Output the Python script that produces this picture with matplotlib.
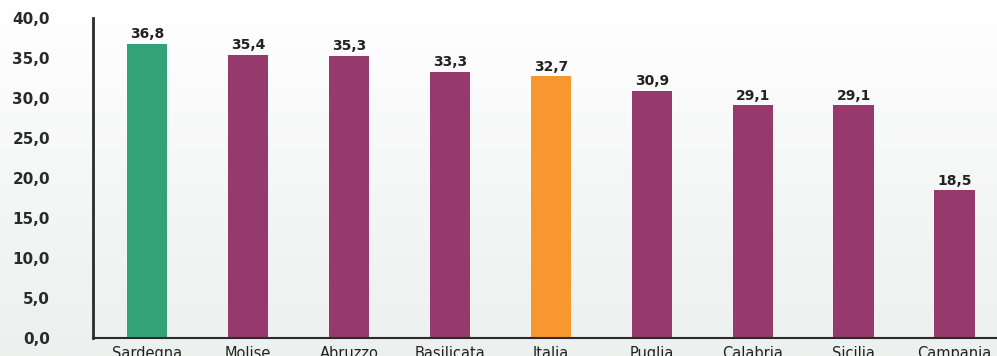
import matplotlib
matplotlib.use('Agg')
import matplotlib.pyplot as plt
import numpy as np
from matplotlib.colors import LinearSegmentedColormap

# Data
regions = ['Sardegna', 'Molise', 'Abruzzo', 'Basilicata', 'Italia',
           'Puglia', 'Calabria', 'Sicilia', 'Campania']
values = [36.8, 35.4, 35.3, 33.3, 32.7, 30.9, 29.1, 29.1, 18.5]
yticks = [0, 5, 10, 15, 20, 25, 30, 35, 40]

green = '#33a377'
purple = '#963a6d'
orange = '#f7972e'
colors = [green] + [purple] * 3 + [orange] + [purple] * 4

fig = plt.figure(figsize=(9.97, 3.56), dpi=100)

# soft vertical gradient background
bg = fig.add_axes([0, 0, 1, 1], zorder=-10)
grad = np.linspace(0, 1, 256).reshape(-1, 1)
bgmap = LinearSegmentedColormap.from_list('bg', ['#ffffff', '#ecf0ee'])
bg.imshow(grad, aspect='auto', cmap=bgmap, extent=[0, 1, 0, 1])
bg.axis('off')

ax = fig.add_axes([93 / 997, 1 - 338 / 356, 1 - 93 / 997, (338 - 18) / 356])
ax.patch.set_alpha(0)

x = np.arange(len(regions))
ax.bar(x, values, width=0.4, color=colors, zorder=2)
for xi, v in zip(x, values):
    ax.text(xi, v + 0.3, ('%.1f' % v).replace('.', ','), ha='center', va='bottom',
            fontsize=10, fontweight='bold', color='#222222', family='DejaVu Sans')

ax.set_xlim(-0.535, len(regions) - 1 + 0.42)
ax.set_ylim(0, 40)
ax.set_yticks(yticks)
ax.set_yticklabels([('%.1f' % t).replace('.', ',') for t in yticks],
                   fontsize=11, fontweight='bold', color='#2a2a2a', family='DejaVu Sans')
ax.set_xticks(x)
ax.set_xticklabels(regions, fontsize=10.5, color='#222222', family='DejaVu Sans')
ax.tick_params(axis='y', length=0, pad=31)
ax.tick_params(axis='x', length=0, pad=6)

for s in ['top', 'right']:
    ax.spines[s].set_visible(False)
ax.spines['left'].set_color('#2b2b2b')
ax.spines['left'].set_linewidth(2)
ax.spines['left'].set_bounds(0, 40)
ax.spines['bottom'].set_color('#2b2b2b')
ax.spines['bottom'].set_linewidth(1.5)

fig.savefig('out.png', dpi=100)
